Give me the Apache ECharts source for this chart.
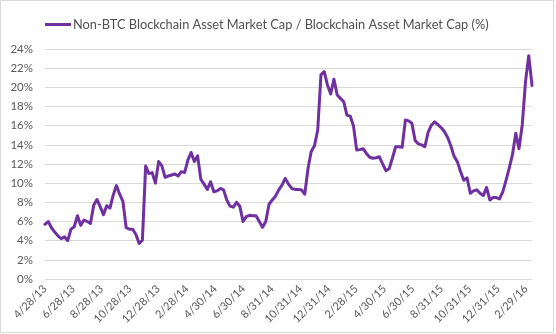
<!DOCTYPE html>
<html>
<head>
<meta charset="utf-8">
<script src="https://cdn.jsdelivr.net/npm/echarts@6/dist/echarts.min.js"></script>
<style>
html,body{margin:0;padding:0;background:#fff;}
#chart{width:556px;height:334px;}
</style>
</head>
<body>
<div id="chart"></div>
<script>
// Weekly observations starting 4/28/13 (one value per week)
const seriesName = 'Non-BTC Blockchain Asset Market Cap / Blockchain Asset Market Cap (%)';
const startDate = [2013, 4, 28]; // year, month, day of first weekly observation
const weeklyShare = [
  5.7, 6.0, 5.35, 4.9, 4.5, 4.2, 4.4, 4.0, 5.2, 5.45,
  6.6, 5.6, 6.15, 6.0, 5.8, 7.7, 8.3, 7.55, 6.7, 7.65,
  7.4, 8.75, 9.75, 8.85, 8.1, 5.35, 5.2, 5.2, 4.65, 3.7,
  4.05, 11.8, 11.0, 11.1, 10.0, 12.25, 11.8, 10.6, 10.75, 10.85,
  10.95, 10.75, 11.2, 11.1, 12.4, 13.2, 12.25, 12.85, 10.4, 9.9,
  9.35, 10.15, 9.1, 9.2, 9.45, 9.3, 8.25, 7.6, 7.5, 8.0,
  7.6, 6.0, 6.5, 6.65, 6.6, 6.6, 6.0, 5.4, 6.0, 7.8,
  8.25, 8.65, 9.3, 9.8, 10.5, 9.9, 9.45, 9.35, 9.35, 9.3,
  8.85, 11.5, 13.3, 13.9, 15.55, 21.3, 21.65, 20.25, 19.3, 20.85,
  19.2, 18.85, 18.5, 17.1, 17.0, 16.0, 13.45, 13.5, 13.6, 13.1,
  12.7, 12.6, 12.65, 12.75, 12.0, 11.3, 11.5, 12.6, 13.8, 13.8,
  13.75, 16.6, 16.5, 16.25, 14.45, 14.1, 14.0, 13.8, 15.3, 16.05,
  16.4, 16.1, 15.8, 15.4, 14.8, 13.9, 12.8, 12.25, 11.2, 10.3,
  10.55, 8.95, 9.2, 9.3, 8.95, 8.7, 9.55, 8.25, 8.5, 8.5,
  8.35, 9.1, 10.3, 11.6, 13.0, 15.2, 13.6, 16.1, 20.6, 23.3,
  20.2
];
const xTickLabels = ['4/28/13','6/28/13','8/28/13','10/28/13','12/28/13','2/28/14','4/30/14','6/30/14','8/31/14','10/31/14','12/31/14','2/28/15','4/30/15','6/30/15','8/31/15','10/31/15','12/31/15','2/29/16'];
const yTicks = [0, 2, 4, 6, 8, 10, 12, 14, 16, 18, 20, 22, 24];

const DAY = 86400000;
const t0 = Date.UTC(startDate[0], startDate[1] - 1, startDate[2]);
function weekDay(i) { return 7 * i; }            // days since first observation
function parseMDY(s) {
  const p = s.split('/').map(Number);
  return Math.round((Date.UTC(2000 + p[2], p[0] - 1, p[1]) - t0) / DAY);
}
const points = weeklyShare.map((v, i) => [weekDay(i), v]);
const tickDays = xTickLabels.map(parseMDY);
const labelFor = {};
xTickLabels.forEach((s, i) => { labelFor[tickDays[i]] = s; });

const font = 'Lato, "Noto Sans", sans-serif';
const chart = echarts.init(document.getElementById('chart'), null, {renderer: 'canvas'});
chart.setOption({
  animation: false,
  backgroundColor: '#ffffff',
  graphic: [{
    type: 'rect', silent: true, z: -10,
    shape: {x: 0.5, y: 0.5, width: 553, height: 332},
    style: {fill: 'none', stroke: '#D9D9D9', lineWidth: 1}
  }],
  legend: {
    left: 40, top: 13,
    icon: 'rect', itemWidth: 26, itemHeight: 3, itemGap: 10,
    textStyle: {fontFamily: font, fontSize: 12.8, color: '#505050', padding: [0, 0, 0, -3]},
    data: [seriesName]
  },
  grid: {left: 45, right: 24, top: 49, bottom: 55, containLabel: false},
  xAxis: {
    type: 'value',
    min: weekDay(0),
    max: weekDay(weeklyShare.length - 1),
    axisLine: {show: false},
    axisTick: {show: false},
    splitLine: {show: false},
    axisLabel: {
      customValues: tickDays,
      rotate: 45,
      margin: 8,
      fontFamily: font,
      fontSize: 11,
      color: '#595959',
      showMinLabel: true,
      showMaxLabel: true,
      formatter: function (val) { return labelFor[val] !== undefined ? labelFor[val] : ''; }
    }
  },
  yAxis: {
    type: 'value',
    min: yTicks[0],
    max: yTicks[yTicks.length - 1],
    interval: 2,
    axisLine: {show: false},
    axisTick: {show: false},
    splitLine: {lineStyle: {color: '#D9D9D9', width: 1}},
    axisLabel: {
      margin: 12,
      fontFamily: font,
      fontSize: 11.5,
      color: '#595959',
      formatter: '{value}%'
    }
  },
  series: [{
    name: seriesName,
    type: 'line',
    data: points,
    showSymbol: false,
    symbol: 'none',
    lineStyle: {color: '#7030A0', width: 3, join: 'round', cap: 'round'},
    itemStyle: {color: '#7030A0'}
  }]
});
</script>
</body>
</html>
